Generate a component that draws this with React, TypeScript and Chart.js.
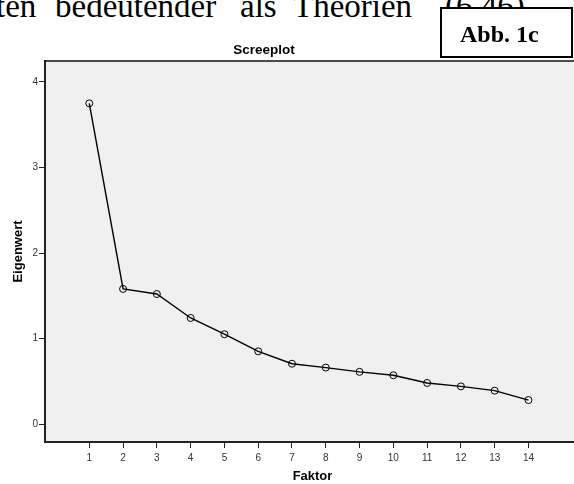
import React, { useEffect, useRef } from "react";
import { Chart, registerables } from "chart.js";

Chart.register(...registerables);

const factors = [1, 2, 3, 4, 5, 6, 7, 8, 9, 10, 11, 12, 13, 14];
const eigenvalues = [3.75, 1.58, 1.52, 1.24, 1.05, 0.85, 0.705, 0.66, 0.61, 0.57, 0.48, 0.44, 0.39, 0.28];
const yTickValues = [0, 1, 2, 3, 4];
const xTickValues = factors;

const chartTitle = "Screeplot";
const xTitle = "Faktor";
const yTitle = "Eigenwert";
const figureLabel = "Abb. 1c";
const docWords = [
  { text: "ten", left: -4 },
  { text: "bedeutender", left: 55 },
  { text: "als", left: 240 },
  { text: "Theorien", left: 293 },
  { text: "(6,46).", left: 445 },
];

const plotDecor = {
  id: "plotDecor",
  beforeDraw(chart: any) {
    const { ctx, chartArea } = chart;
    ctx.save();
    ctx.fillStyle = "#f0f0f0";
    ctx.fillRect(chartArea.left, chartArea.top, chartArea.right - chartArea.left, chartArea.bottom - chartArea.top);
    ctx.restore();
  },
  afterDraw(chart: any) {
    const { ctx, chartArea } = chart;
    ctx.save();
    ctx.strokeStyle = "#111";
    ctx.lineWidth = 1.5;
    ctx.beginPath();
    ctx.moveTo(chartArea.left, chartArea.top);
    ctx.lineTo(chartArea.right, chartArea.top);
    ctx.stroke();
    ctx.restore();
  },
};

export default function App() {
  const ref = useRef<HTMLCanvasElement | null>(null);

  useEffect(() => {
    if (!ref.current) return;
    const chart = new Chart(ref.current, {
      type: "line",
      data: {
        datasets: [
          {
            data: factors.map((f, i) => ({ x: f, y: eigenvalues[i] })),
            borderColor: "#000",
            borderWidth: 1.4,
            pointRadius: 3.5,
            pointBorderWidth: 1,
            pointBorderColor: "#000",
            pointBackgroundColor: "rgba(0,0,0,0)",
            fill: false,
            tension: 0,
          },
        ],
      },
      options: {
        responsive: false,
        animation: false,
        devicePixelRatio: 1,
        layout: { padding: { top: 61, left: 0, right: 0, bottom: 0 } },
        plugins: { legend: { display: false }, tooltip: { enabled: false } },
        scales: {
          x: {
            type: "linear",
            min: -0.311,
            max: 15.525,
            afterBuildTicks: (scale: any) => {
              scale.ticks = xTickValues.map((v) => ({ value: v }));
            },
            afterFit: (scale: any) => {
              scale.height = 42;
              scale.paddingLeft = 0;
              scale.paddingRight = 0;
            },
            ticks: {
              autoSkip: false,
              maxRotation: 0,
              padding: 4,
              color: "#333",
              font: { family: "Liberation Sans, Arial", size: 10 },
            },
            grid: {
              display: true,
              drawOnChartArea: false,
              drawTicks: true,
              tickLength: 6,
              tickColor: "#222",
              tickWidth: 1,
            },
            border: { display: true, color: "#222", width: 2 },
            title: {
              display: true,
              text: xTitle,
              color: "#000",
              padding: { top: 0, bottom: 0 },
              font: { family: "Liberation Sans, Arial", size: 13, weight: "bold" },
            },
          },
          y: {
            type: "linear",
            min: -0.2105,
            max: 4.2456,
            afterBuildTicks: (scale: any) => {
              scale.ticks = yTickValues.map((v) => ({ value: v }));
            },
            afterFit: (scale: any) => {
              scale.width = 45;
              scale.paddingTop = 0;
              scale.paddingBottom = 0;
            },
            ticks: {
              padding: 1,
              color: "#333",
              font: { family: "Liberation Sans, Arial", size: 10 },
            },
            grid: {
              display: true,
              drawOnChartArea: false,
              drawTicks: true,
              tickLength: 6,
              tickColor: "#222",
              tickWidth: 1,
            },
            border: { display: true, color: "#222", width: 2 },
            title: {
              display: true,
              text: yTitle,
              color: "#000",
              padding: { top: 11, bottom: 0 },
              font: { family: "Liberation Sans, Arial", size: 13, weight: "bold" },
            },
          },
        },
      },
      plugins: [plotDecor],
    });
    return () => chart.destroy();
  }, []);

  return (
    <div
      style={{
        position: "absolute",
        left: 0,
        top: 0,
        width: 574,
        height: 484,
        overflow: "hidden",
        background: "#fff",
      }}
    >
      {docWords.map((w) => (
        <div
          key={w.text}
          style={{
            position: "absolute",
            left: w.left,
            top: -10,
            fontFamily: "Liberation Serif, Times New Roman, serif",
            fontSize: 33,
            lineHeight: "33px",
            whiteSpace: "nowrap",
            color: "#000",
          }}
        >
          {w.text}
        </div>
      ))}
      <canvas ref={ref} width={585} height={484} style={{ position: "absolute", left: 0, top: 0, display: "block" }} />
      <div
        style={{
          position: "absolute",
          left: 440,
          top: 7,
          width: 133,
          height: 51,
          boxSizing: "border-box",
          border: "2px solid #000",
          background: "#fff",
        }}
      />
      <div
        style={{
          position: "absolute",
          left: 460,
          top: 22,
          fontFamily: "Liberation Serif, Times New Roman, serif",
          fontWeight: "bold",
          fontSize: 24,
          lineHeight: "24px",
          whiteSpace: "nowrap",
          color: "#000",
        }}
      >
        {figureLabel}
      </div>
      <div
        style={{
          position: "absolute",
          left: 164,
          width: 200,
          top: 43,
          textAlign: "center",
          fontFamily: "Liberation Sans, Arial, sans-serif",
          fontWeight: "bold",
          fontSize: 13.5,
          lineHeight: "14px",
          color: "#000",
        }}
      >
        {chartTitle}
      </div>
    </div>
  );
}
